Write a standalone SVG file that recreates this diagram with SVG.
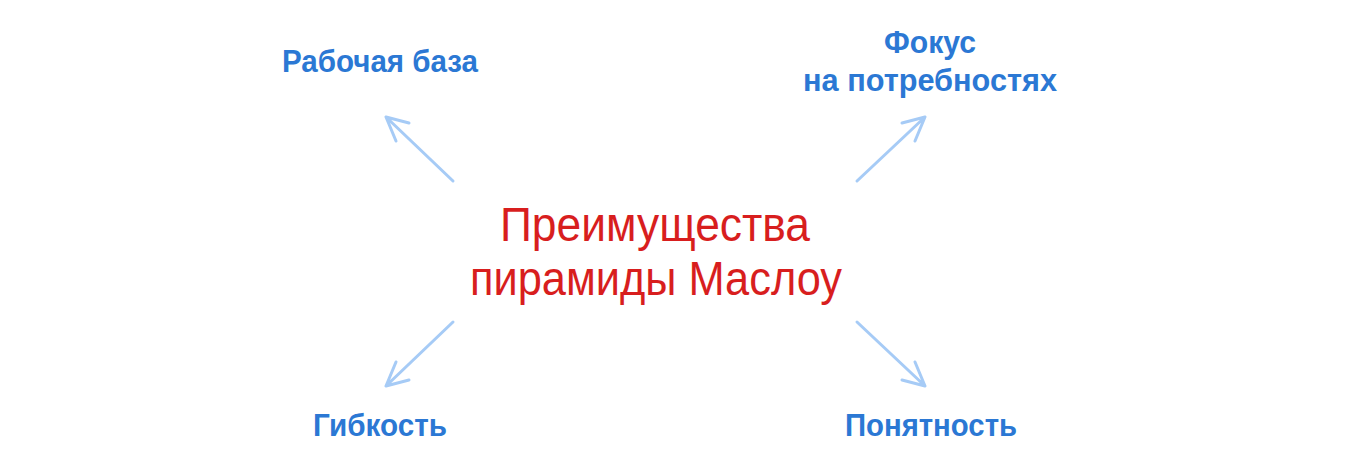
<svg xmlns="http://www.w3.org/2000/svg" width="1352" height="475" viewBox="0 0 1352 475">
<defs>
<style>
.lbl{font-family:"Liberation Sans","Noto Sans",sans-serif;font-weight:bold;font-size:32px;fill:#2b78d4}
.ttl{font-family:"Liberation Sans","Noto Sans",sans-serif;font-size:48px;fill:#d81e1e}
.arr{stroke:#a6cbf6;stroke-width:3;fill:none;stroke-linecap:round;stroke-linejoin:round}
</style>
</defs>
<rect width="1352" height="475" fill="#ffffff"/>
<g id="connectors">
<path class="arr" d="M453,181 L386,117 M386,117 L409,123 M386,117 L396,141"/>
<path class="arr" d="M857,181 L925,117 M925,117 L902,123 M925,117 L915,141"/>
<path class="arr" d="M453,322 L386,386 M386,386 L409,380 M386,386 L396,362"/>
<path class="arr" d="M857,322 L925,386 M925,386 L902,380 M925,386 L915,362"/>
</g>
<g id="center">
<text class="ttl" x="655" y="241" text-anchor="middle" textLength="310" lengthAdjust="spacingAndGlyphs">Преимущества</text>
<text class="ttl" x="656" y="295" text-anchor="middle" textLength="372" lengthAdjust="spacingAndGlyphs">пирамиды Маслоу</text>
</g>
<g id="node-work">
<text class="lbl" x="380" y="72" text-anchor="middle" textLength="196" lengthAdjust="spacingAndGlyphs">Рабочая база</text>
</g>
<g id="node-focus">
<text class="lbl" x="930" y="53" text-anchor="middle" textLength="92" lengthAdjust="spacingAndGlyphs">Фокус</text>
<text class="lbl" x="930" y="91" text-anchor="middle" textLength="254" lengthAdjust="spacingAndGlyphs">на потребностях</text>
</g>
<g id="node-flex">
<text class="lbl" x="380" y="436" text-anchor="middle" textLength="134" lengthAdjust="spacingAndGlyphs">Гибкость</text>
</g>
<g id="node-clear">
<text class="lbl" x="931" y="436" text-anchor="middle" textLength="172" lengthAdjust="spacingAndGlyphs">Понятность</text>
</g>
</svg>
